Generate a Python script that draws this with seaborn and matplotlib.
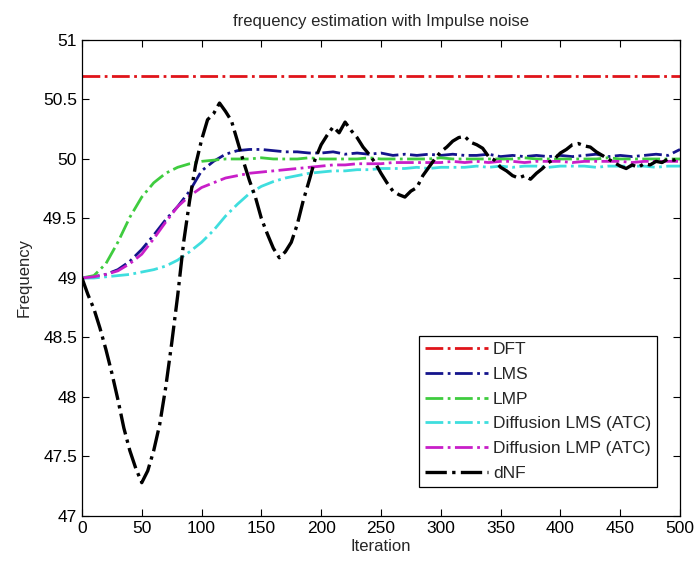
import numpy as np
import pandas as pd
import matplotlib
matplotlib.use("Agg")
import matplotlib.pyplot as plt
import seaborn as sns

# ---- values ----
iter_coarse = list(range(0, 501, 10))
iter_fine = list(range(0, 501, 5))

dft_iter = [0, 500]
dft = [50.7, 50.7]

lms = [49.00, 49.01, 49.03, 49.07, 49.14, 49.24, 49.36, 49.49, 49.60, 49.73,
       49.90, 49.98, 50.04, 50.07, 50.08, 50.08, 50.07, 50.06, 50.06, 50.05,
       50.05, 50.06, 50.04, 50.05, 50.04, 50.05, 50.03, 50.04, 50.03, 50.04,
       50.03, 50.04, 50.03, 50.03, 50.04, 50.02, 50.03, 50.02, 50.03, 50.02,
       50.03, 50.02, 50.03, 50.04, 50.02, 50.03, 50.02, 50.03, 50.04, 50.03,
       50.08]

lmp = [49.00, 49.02, 49.12, 49.30, 49.51, 49.68, 49.80, 49.88, 49.93, 49.96,
       49.98, 49.99, 50.00, 50.00, 50.00, 50.01, 50.00, 50.00, 50.00, 50.01,
       50.00, 50.00, 50.00, 50.00, 50.01, 50.00, 50.00, 50.00, 50.00, 50.00,
       50.01, 50.00, 50.00, 50.00, 50.00, 50.00, 50.00, 50.01, 50.00, 50.00,
       50.00, 50.00, 50.00, 50.00, 50.01, 50.00, 50.00, 50.00, 50.00, 50.00,
       50.00]

diff_lms = [49.00, 49.00, 49.01, 49.02, 49.03, 49.05, 49.07, 49.10, 49.15, 49.22,
            49.30, 49.40, 49.52, 49.62, 49.71, 49.77, 49.81, 49.84, 49.86, 49.88,
            49.89, 49.90, 49.90, 49.91, 49.91, 49.92, 49.92, 49.92, 49.93, 49.92,
            49.93, 49.93, 49.93, 49.94, 49.93, 49.94, 49.93, 49.94, 49.94, 49.93,
            49.94, 49.94, 49.94, 49.93, 49.94, 49.94, 49.94, 49.94, 49.93, 49.94,
            49.94]

diff_lmp = [49.00, 49.01, 49.03, 49.06, 49.12, 49.20, 49.33, 49.47, 49.60, 49.69,
            49.76, 49.80, 49.84, 49.86, 49.88, 49.89, 49.90, 49.91, 49.92, 49.93,
            49.94, 49.95, 49.95, 49.96, 49.96, 49.96, 49.97, 49.97, 49.97, 49.97,
            49.97, 49.98, 49.97, 49.98, 49.97, 49.98, 49.98, 49.97, 49.98, 49.98,
            49.98, 49.97, 49.98, 49.98, 49.98, 49.98, 49.97, 49.98, 49.98, 49.98,
            49.98]

dnf = [49.00, 48.86, 48.74, 48.58, 48.40, 48.20, 47.98, 47.74, 47.55, 47.40,
       47.28, 47.38, 47.55, 47.77, 48.08, 48.45, 48.85, 49.30, 49.65, 49.95,
       50.16, 50.33, 50.38, 50.47, 50.40, 50.32, 50.15, 49.98, 49.82, 49.68,
       49.50, 49.37, 49.25, 49.17, 49.22, 49.30, 49.45, 49.65, 49.82, 50.00,
       50.12, 50.20, 50.27, 50.22, 50.31, 50.24, 50.18, 50.10, 50.04, 49.97,
       49.88, 49.80, 49.73, 49.70, 49.68, 49.73, 49.76, 49.86, 49.93, 50.00,
       50.06, 50.10, 50.15, 50.18, 50.19, 50.14, 50.12, 50.09, 50.02, 49.99,
       49.93, 49.90, 49.86, 49.84, 49.86, 49.83, 49.88, 49.92, 49.97, 50.00,
       50.05, 50.08, 50.12, 50.13, 50.11, 50.10, 50.06, 50.03, 50.00, 49.97,
       49.94, 49.92, 49.95, 49.93, 49.96, 49.95, 49.98, 49.97, 50.00, 49.99,
       50.01]

x_ticks = list(range(0, 501, 50))
y_ticks = [47, 47.5, 48, 48.5, 49, 49.5, 50, 50.5, 51]

# ---- style ----
sns.set_style("ticks")
plt.rcParams['font.family'] = ['Liberation Sans Narrow', 'Liberation Sans', 'DejaVu Sans']
plt.rcParams['xtick.direction'] = 'in'
plt.rcParams['ytick.direction'] = 'in'

fig = plt.figure(figsize=(6.97, 5.63), dpi=100)
ax = fig.add_axes([0.1176, 0.0835, 0.858, 0.8455])

series = [
    (dft_iter, dft, "DFT", "#e0141a", 2.0),
    (iter_coarse, lms, "LMS", "#14148c", 2.0),
    (iter_coarse, lmp, "LMP", "#3fcc3f", 2.0),
    (iter_coarse, diff_lms, "Diffusion LMS (ATC)", "#3fdede", 2.0),
    (iter_coarse, diff_lmp, "Diffusion LMP (ATC)", "#c81ec8", 2.0),
    (iter_fine, dnf, "dNF", "black", 2.4),
]

for xs, ys, name, col, lw in series:
    sns.lineplot(x=xs, y=ys, ax=ax, color=col, linewidth=lw,
                 linestyle="-.", label=name, estimator=None, sort=False)

ax.set_xlim(0, 500)
ax.set_ylim(47, 51)
ax.set_xticks(x_ticks)
ax.set_yticks(y_ticks)
ax.set_yticklabels([f"{v:g}" for v in y_ticks])
ax.tick_params(top=True, right=True, labelsize=12.5, length=5, width=0.8, colors="black")
for sp in ax.spines.values():
    sp.set_visible(True)
    sp.set_linewidth(0.9)
    sp.set_color("black")

ax.set_title("frequency estimation with Impulse noise", fontsize=12, pad=10)
ax.set_xlabel("Iteration", fontsize=12, labelpad=2)
ax.set_ylabel("Frequency", fontsize=12, labelpad=8)

leg = ax.legend(loc="lower right", bbox_to_anchor=(0.9615, 0.061),
                fancybox=False, framealpha=1, edgecolor="black",
                fontsize=12.5, handlelength=3.6, handletextpad=0.3,
                borderpad=0.35, labelspacing=0.55, borderaxespad=0)
leg.get_frame().set_linewidth(0.9)

fig.savefig("out.png", dpi=100)
